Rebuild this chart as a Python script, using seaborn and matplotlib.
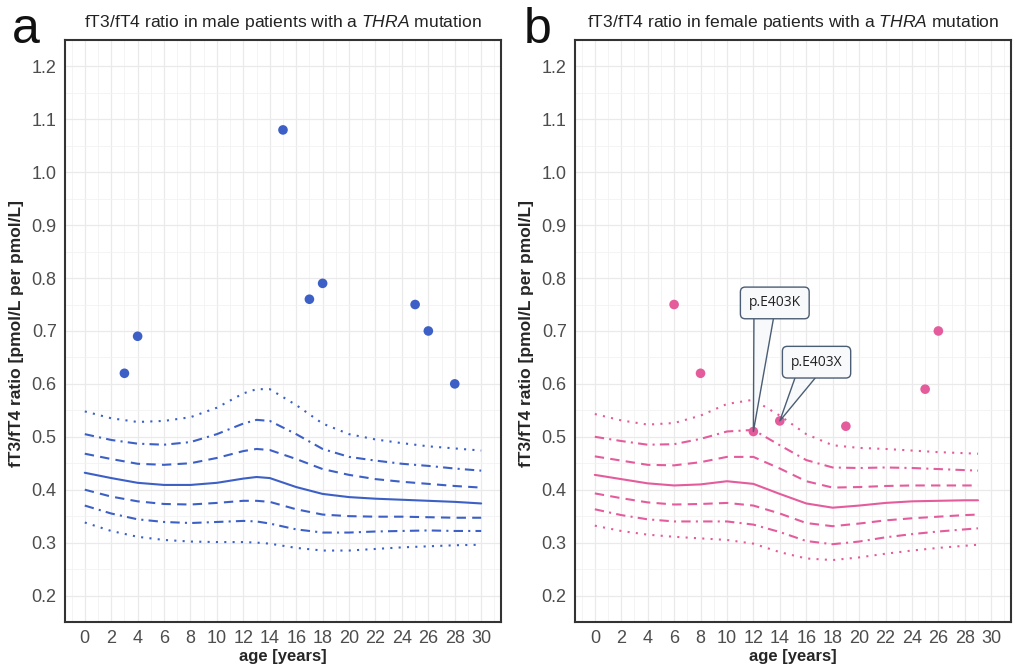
import numpy as np
import pandas as pd
import matplotlib
matplotlib.use("Agg")
import matplotlib.pyplot as plt
import seaborn as sns

# ---------------- data ----------------
male_ages = [0, 2, 4, 6, 8, 10, 12, 13, 14, 16, 18, 20, 22, 24, 26, 28, 30]
male_p3 = [0.338, 0.322, 0.311, 0.305, 0.302, 0.301, 0.301, 0.300, 0.298, 0.290, 0.285, 0.285, 0.288, 0.291, 0.293, 0.295, 0.296]
male_p10 = [0.370, 0.355, 0.344, 0.339, 0.337, 0.339, 0.341, 0.340, 0.336, 0.325, 0.319, 0.319, 0.321, 0.322, 0.323, 0.322, 0.322]
male_p25 = [0.400, 0.387, 0.378, 0.373, 0.372, 0.375, 0.379, 0.379, 0.377, 0.363, 0.353, 0.350, 0.349, 0.349, 0.348, 0.347, 0.347]
male_p50 = [0.432, 0.422, 0.413, 0.409, 0.409, 0.413, 0.421, 0.424, 0.422, 0.405, 0.392, 0.386, 0.383, 0.381, 0.379, 0.377, 0.374]
male_p75 = [0.468, 0.458, 0.449, 0.447, 0.450, 0.460, 0.473, 0.477, 0.475, 0.458, 0.439, 0.428, 0.420, 0.415, 0.411, 0.407, 0.404]
male_p90 = [0.505, 0.494, 0.487, 0.485, 0.490, 0.505, 0.525, 0.532, 0.530, 0.505, 0.477, 0.462, 0.455, 0.449, 0.445, 0.440, 0.436]
male_p97 = [0.548, 0.535, 0.528, 0.530, 0.537, 0.555, 0.582, 0.590, 0.590, 0.560, 0.525, 0.505, 0.495, 0.488, 0.482, 0.478, 0.474]

female_ages = [0, 2, 4, 6, 8, 10, 12, 14, 16, 18, 20, 22, 24, 26, 28, 29]
female_p3 = [0.332, 0.322, 0.315, 0.311, 0.308, 0.305, 0.298, 0.282, 0.270, 0.267, 0.272, 0.279, 0.285, 0.290, 0.294, 0.296]
female_p10 = [0.363, 0.352, 0.344, 0.340, 0.340, 0.340, 0.334, 0.320, 0.303, 0.297, 0.302, 0.310, 0.316, 0.321, 0.325, 0.327]
female_p25 = [0.393, 0.384, 0.376, 0.372, 0.373, 0.375, 0.370, 0.355, 0.337, 0.331, 0.336, 0.342, 0.346, 0.349, 0.352, 0.353]
female_p50 = [0.428, 0.420, 0.412, 0.408, 0.410, 0.416, 0.411, 0.392, 0.374, 0.366, 0.370, 0.375, 0.378, 0.379, 0.380, 0.380]
female_p75 = [0.463, 0.455, 0.447, 0.446, 0.452, 0.462, 0.462, 0.440, 0.416, 0.404, 0.405, 0.407, 0.408, 0.408, 0.408, 0.408]
female_p90 = [0.500, 0.492, 0.485, 0.486, 0.496, 0.510, 0.513, 0.484, 0.456, 0.442, 0.441, 0.442, 0.441, 0.439, 0.437, 0.436]
female_p97 = [0.543, 0.531, 0.523, 0.526, 0.540, 0.562, 0.570, 0.540, 0.505, 0.484, 0.479, 0.477, 0.474, 0.471, 0.469, 0.468]

male_pat_age = [3, 4, 15, 17, 18, 25, 26, 28]
male_pat_ratio = [0.62, 0.69, 1.08, 0.76, 0.79, 0.75, 0.70, 0.60]

female_pat_age = [6, 8, 12, 14, 19, 25, 26]
female_pat_ratio = [0.75, 0.62, 0.51, 0.53, 0.52, 0.59, 0.70]

callout_labels = ["p.E403K", "p.E403X"]
callout_age = [12, 14]
callout_ratio = [0.51, 0.53]
callout_text_pos = [(13.62, 0.753), (16.78, 0.641)]

x_ticks = list(range(0, 31, 2))
y_ticks = [0.2, 0.3, 0.4, 0.5, 0.6, 0.7, 0.8, 0.9, 1.0, 1.1, 1.2]

# ---------------- style ----------------
sns.set_style("white")
plt.rcParams["font.family"] = ["Liberation Sans", "DejaVu Sans"]
plt.rcParams["mathtext.fontset"] = "custom"
plt.rcParams["mathtext.rm"] = "Liberation Sans"
plt.rcParams["mathtext.it"] = "Liberation Sans:italic"

BLUE = "#3D60C6"
PINK = "#E45C9C"
styles = {
    "p3": (0, (1, 3)),
    "p10": (0, (4.5, 2.5, 1, 2.5)),
    "p25": (0, (4.5, 3)),
    "p50": "-",
    "p75": (0, (4.5, 3)),
    "p90": (0, (4.5, 2.5, 1, 2.5)),
    "p97": (0, (1, 3)),
}

fig = plt.figure(figsize=(10.15, 6.64), dpi=100)
ax_m = fig.add_axes([0.064, 0.0633, 0.4296, 0.8765])
ax_f = fig.add_axes([0.5665, 0.0633, 0.4296, 0.8765])


def centile_frame(ages, curves):
    rows = []
    for name, vals in curves.items():
        for a, v in zip(ages, vals):
            rows.append({"age": a, "ratio": v, "centile": name})
    return pd.DataFrame(rows)


def draw_panel(ax, ages, curves, pat_age, pat_ratio, color, title, letter, letter_x):
    df = centile_frame(ages, curves)
    for name in curves:
        sub = df[df["centile"] == name]
        sns.lineplot(data=sub, x="age", y="ratio", ax=ax, color=color,
                     linewidth=1.5, linestyle=styles[name], zorder=3)
    pts = pd.DataFrame({"age": pat_age, "ratio": pat_ratio})
    sns.scatterplot(data=pts, x="age", y="ratio", ax=ax, color=color, s=48,
                    edgecolor="none", zorder=4)

    ax.set_xlim(-1.5, 31.5)
    ax.set_ylim(0.15, 1.25)
    ax.set_xticks(x_ticks)
    ax.set_xticklabels([str(t) for t in x_ticks])
    ax.set_yticks(y_ticks)
    ax.set_yticklabels([f"{t:.1f}" for t in y_ticks])
    ax.set_xticks(np.arange(-1, 32, 2), minor=True)
    ax.set_yticks(np.arange(0.15, 1.26, 0.1), minor=True)
    ax.grid(which="major", color="#EAEAEA", linewidth=0.9, zorder=0)
    ax.grid(which="minor", color="#F2F2F2", linewidth=0.6, zorder=0)
    ax.set_axisbelow(True)
    for sp in ax.spines.values():
        sp.set_visible(True)
        sp.set_color("#333333")
        sp.set_linewidth(1.5)
    ax.tick_params(axis="both", which="major", direction="out", length=4,
                   width=1.1, color="#333333", labelsize=13,
                   labelcolor="#4D4D4D", pad=2)
    ax.tick_params(axis="both", which="minor", length=0)
    ax.set_xlabel("age [years]", fontsize=12, fontweight="bold", labelpad=1)
    ax.set_ylabel("fT3/fT4 ratio [pmol/L per pmol/L]", fontsize=12.5,
                  fontweight="bold", labelpad=4)
    ax.yaxis.set_label_coords(-0.093, 0.495)
    ax.set_title(title, fontsize=12.6, color="#222222", pad=9)
    fig.text(letter_x, 0.935, letter, fontsize=36, ha="left", va="baseline",
             color="#111111")


draw_panel(ax_m, male_ages,
           {"p3": male_p3, "p10": male_p10, "p25": male_p25, "p50": male_p50,
            "p75": male_p75, "p90": male_p90, "p97": male_p97},
           male_pat_age, male_pat_ratio, BLUE,
           r"fT3/fT4 ratio in male patients with a $\it{THRA}$ mutation", "a", 0.012)
draw_panel(ax_f, female_ages,
           {"p3": female_p3, "p10": female_p10, "p25": female_p25, "p50": female_p50,
            "p75": female_p75, "p90": female_p90, "p97": female_p97},
           female_pat_age, female_pat_ratio, PINK,
           r"fT3/fT4 ratio in female patients with a $\it{THRA}$ mutation", "b", 0.516)

for lab, ax_, ay, (tx, ty), rel in zip(callout_labels, callout_age, callout_ratio,
                                       callout_text_pos, [(0.3, 0.0), (0.35, 0.0)]):
    ax_f.annotate(lab, xy=(ax_, ay), xytext=(tx, ty), fontsize=10,
                  family=["Open Sans", "DejaVu Sans"], color="#222222",
                  ha="center", va="center", zorder=6,
                  bbox=dict(boxstyle="round,pad=0.6,rounding_size=0.35",
                            fc="#F7F9FB", ec="#4B5D75", lw=1.0),
                  arrowprops=dict(arrowstyle="wedge,tail_width=1.5",
                                  fc="#F7F9FB", ec="#4B5D75", lw=1.0,
                                  relpos=rel, shrinkA=0, shrinkB=0,
                                  patchA=None))

fig.savefig("out.png", dpi=100)
